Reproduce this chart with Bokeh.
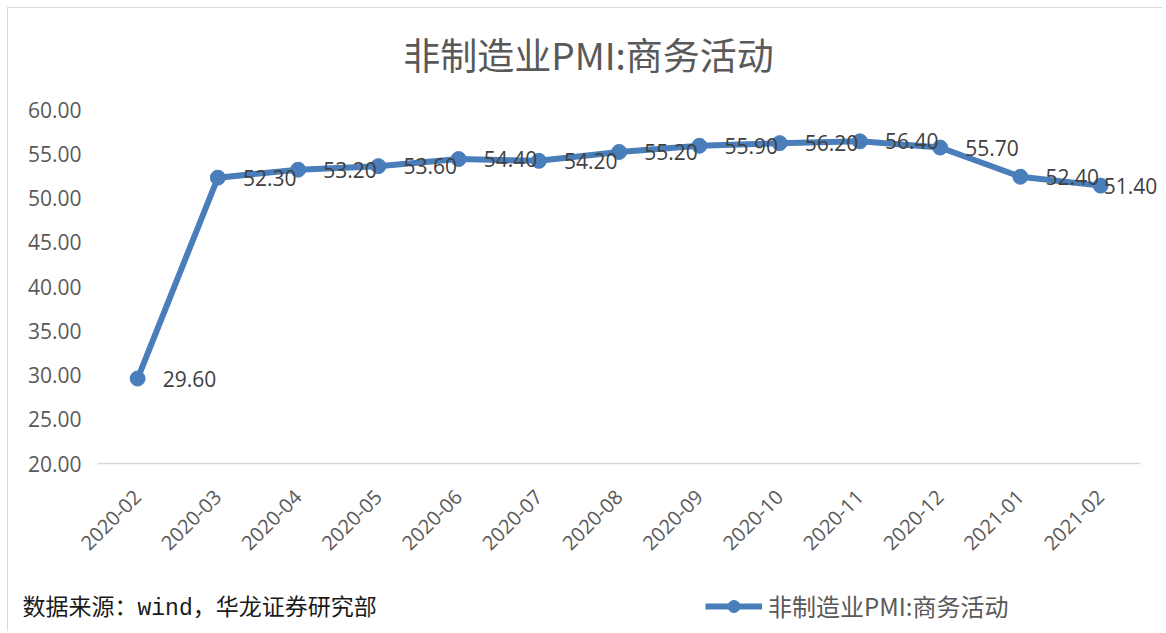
from bokeh.plotting import figure
from bokeh.layouts import column
from bokeh.models import (Range1d, ColumnDataSource, LabelSet, Label, FixedTicker,
                          Legend, LegendItem, CustomJSTickFormatter)
from bokeh.core.properties import value
from bokeh.embed import file_html
from bokeh.resources import INLINE
import math

months = ["2020-02", "2020-03", "2020-04", "2020-05", "2020-06", "2020-07", "2020-08",
          "2020-09", "2020-10", "2020-11", "2020-12", "2021-01", "2021-02"]
values = [29.6, 52.3, 53.2, 53.6, 54.4, 54.2, 55.2, 55.9, 56.2, 56.4, 55.7, 52.4, 51.4]
y_ticks = [20, 25, 30, 35, 40, 45, 50, 55, 60]
series_name = "非制造业PMI:商务活动"
title_text = "非制造业PMI:商务活动"
source_text = "数据来源：wind，华龙证券研究部"

BLUE = "#4A7EBB"
GRAY = "#595959"
NUM_FONT = "Open Sans"
CJK = "Noto Sans CJK SC"
W = 1154


def blank(height):
    f = figure(width=W, height=height, x_range=Range1d(0, W), y_range=Range1d(0, height),
               output_backend="svg", toolbar_location=None, x_axis_type=None,
               y_axis_type=None, min_border=0)
    f.frame_align = False
    f.outline_line_color = None
    f.xgrid.grid_line_color = None
    f.ygrid.grid_line_color = None
    return f


n = len(months)
xs = list(range(n))
# label offsets: right of the point; the last one is pushed back inside the chart area
offs = [25] * (n - 1) + [3]
src = ColumnDataSource(dict(x=xs, y=values, lbl=[f"{v:.2f}" for v in values], off=offs))

# header with the title
head = blank(80)
head.add_layout(Label(x=580, y=35, text=title_text, text_align="center",
                      text_baseline="middle", text_font=CJK,
                      text_font_size="37px", text_color=GRAY))

FRAME_W = 1065
p = figure(width=W, height=497,
           x_range=Range1d(-0.5, -0.5 + FRAME_W / 80.25), y_range=Range1d(20, 60),
           output_backend="svg", toolbar_location=None,
           min_border_left=89, min_border_right=0, min_border_top=21, min_border_bottom=122)
p.frame_align = False
p.outline_line_color = None
p.xgrid.grid_line_color = None
p.ygrid.grid_line_color = None

p.yaxis.ticker = y_ticks
p.yaxis.formatter = CustomJSTickFormatter(code="return tick.toFixed(2);")
p.yaxis.axis_line_color = None
p.yaxis.major_tick_line_color = None
p.yaxis.minor_tick_line_color = None
p.yaxis.major_label_text_font = NUM_FONT
p.yaxis.major_label_text_font_size = "21px"
p.yaxis.major_label_text_color = GRAY
p.yaxis.major_label_standoff = 10

p.xaxis.ticker = FixedTicker(ticks=xs)
p.xaxis.major_label_overrides = {i: m for i, m in enumerate(months)}
p.xaxis.bounds = (-0.5, n - 0.5)
p.xaxis.axis_line_color = "#D9D9D9"
p.xaxis.axis_line_width = 1.5
p.xaxis.major_tick_line_color = None
p.xaxis.minor_tick_line_color = None
p.xaxis.major_label_orientation = math.pi / 4
p.xaxis.major_label_text_font = NUM_FONT
p.xaxis.major_label_text_font_size = "20px"
p.xaxis.major_label_text_color = GRAY
p.xaxis.major_label_standoff = 24

p.line("x", "y", source=src, line_color=BLUE, line_width=6)
p.scatter("x", "y", source=src, size=15, fill_color=BLUE, line_color=BLUE)

labels = LabelSet(x="x", y="y", text="lbl", source=src, x_offset="off", y_offset=0,
                  text_baseline="middle", text_font=value(NUM_FONT),
                  text_font_size="21px", text_color="#404040")
p.add_layout(labels)

# footer with source note and legend
foot = blank(46)
fl = foot.line("x", "y", source=src, line_color=BLUE, line_width=6, visible=False)
fs = foot.scatter("x", "y", source=src, size=15, fill_color=BLUE, line_color=BLUE, visible=False)
foot.add_layout(Label(x=14, y=23, text=source_text, text_align="left",
                      text_baseline="middle", text_font="Liberation Mono, Noto Sans CJK SC",
                      text_font_size="23px", text_color="#1a1a1a"))
legend = Legend(items=[LegendItem(label=series_name, renderers=[fl, fs])],
                location=(697, 8), padding=0, margin=0, border_line_color=None,
                background_fill_alpha=0, glyph_width=57, glyph_height=30,
                label_height=30, label_standoff=6,
                label_text_font=CJK, label_text_font_size="24px", label_text_color=GRAY,
                label_text_baseline="middle")
foot.add_layout(legend, "center")

layout = column(head, p, foot, spacing=0,
                styles={"margin-left": "7px", "margin-top": "7px",
                        "border-left": "1px solid #D9D9D9", "border-top": "1px solid #D9D9D9"})

open("out.html", "w").write(file_html(layout, INLINE))
